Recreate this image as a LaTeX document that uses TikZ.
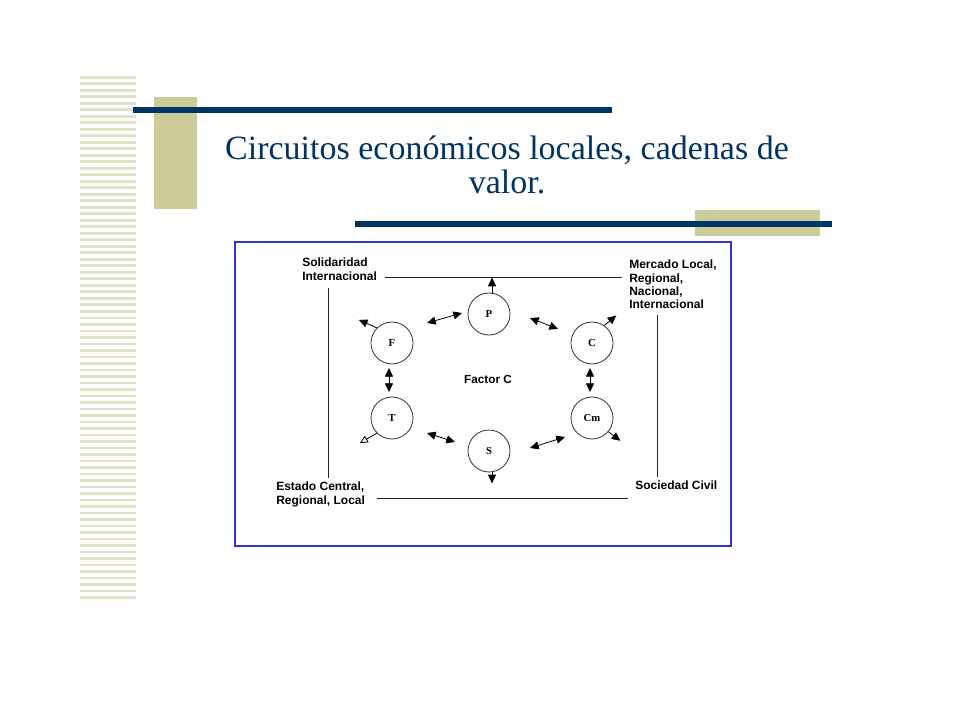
\documentclass[tikz,border=0pt]{standalone}
\usepackage{fontspec}
\setmainfont{Liberation Serif}
\newfontfamily\labelfont{Liberation Sans}
\usetikzlibrary{arrows.meta,calc}
\definecolor{navy}{RGB}{0,51,102}
\definecolor{khaki}{RGB}{204,204,153}
\definecolor{stripe}{RGB}{226,226,200}
\definecolor{frameblue}{RGB}{51,51,204}
\tikzset{
  ring/.style={circle,draw=black!80,line width=0.6pt,minimum size=31.5pt,inner sep=0pt,
    font=\bfseries\fontsize{8}{8}\selectfont},
  lbl/.style={anchor=north west,inner sep=0pt,align=left,
    font=\labelfont\bfseries\fontsize{9}{10}\selectfont},
  outarrow/.style={-{Triangle[length=6.5pt,width=6pt]},line width=0.6pt},
  twoway/.style={{Triangle[length=6.5pt,width=6pt]}-{Triangle[length=6.5pt,width=6pt]},line width=0.6pt},
  rule/.style={line width=0.6pt,black!85},
}
\begin{document}
\begin{tikzpicture}[x=0.75pt,y=-0.75pt]
    \useasboundingbox (0,0) rectangle (960,720);
    \fill[white] (0,0) rectangle (960,720);
    % striped band on the left
    \foreach \s in {0,...,80} {
      \fill[stripe] (80,{76+6.5*\s}) rectangle (136,{78.6+6.5*\s});
    }
    % title bars
    \fill[khaki] (154,97) rectangle (197,209);
    \fill[navy] (133,107) rectangle (612,113);
    \fill[khaki] (695,210) rectangle (820,236);
    \fill[navy] (355,221) rectangle (832,227);
    \node[font=\fontsize{25.5}{26}\selectfont,text=navy,align=center] (title) at (507,165)
      {Circuitos económicos locales, cadenas de\\valor.};

    % frame
    \draw[frameblue,line width=1.5pt] (235,242) rectangle (731,546);

    % circles
    \foreach \n/\px/\py/\txt in {P/489/314/P,F/392/343/F,C/592/343/C,T/392/418/T,Cm/592/418/Cm,S/489/451/S} {
      \node[ring] (\n) at (\px,\py) {\txt};
    }
    \node[font=\labelfont\bfseries\fontsize{8.8}{10}\selectfont] (factor) at (488,379) {Factor C};

    % corner labels
    \node[lbl] (sol) at (302,258) {Solidaridad\\Internacional};
    \node[lbl] (mer) at (629,260) {Mercado Local,\\Regional,\\Nacional,\\Internacional};
    \node[lbl] (est) at (276,482) {Estado Central,\\Regional, Local};
    \node[lbl] (soc) at (635,481) {Sociedad Civil};

    % outer rules
    \draw[rule] ($(sol.south east)+(8,-3)$) -- ($(mer.west |- sol.south east)+(-7,-3)$);
    \draw[rule] ($(sol.south west)+(26,7)$) -- ($(sol.south west |- est.north)+(26,-4)$);
    \draw[rule] ($(mer.south west)+(28,6)$) -- ($(mer.south west |- soc.north)+(28,-4)$);
    \draw[rule] ($(est.north east)+(12,16)$) -- ($(soc.north west)+(-7,17)$);

    % arrows out of the circles
    \draw[outarrow] ([shift={(3,0)}]P.north) -- ++(0,-15);
    \draw[outarrow] ([shift={(3,0)}]S.south) -- ++(0,11);
    \draw[outarrow] (F.135) -- ++(-18,-8);
    \draw[-{Triangle[open,length=6pt,width=5.5pt]},line width=0.6pt] (T.225) -- ++(-17,10);
    \draw[outarrow] (C.55) -- ++(12,-10);
    \draw[outarrow] (Cm.-40) -- ++(12,9);

    % arrows between the circles
    \draw[twoway] ([shift={(35,-20)}]F.center) -- ([shift={(-27,-1)}]P.center);
    \draw[twoway] ([shift={(41,4)}]P.center) -- ([shift={(-34,-14)}]C.center);
    \draw[twoway] ([shift={(-3,25)}]F.center) -- ([shift={(-3,-26)}]T.center);
    \draw[twoway] ([shift={(-2,25)}]C.center) -- ([shift={(-2,-26)}]Cm.center);
    \draw[twoway] ([shift={(35,15)}]T.center) -- ([shift={(-34,-9)}]S.center);
    \draw[twoway] ([shift={(41,-3)}]S.center) -- ([shift={(-27,19)}]Cm.center);
  \end{tikzpicture}
\end{document}
